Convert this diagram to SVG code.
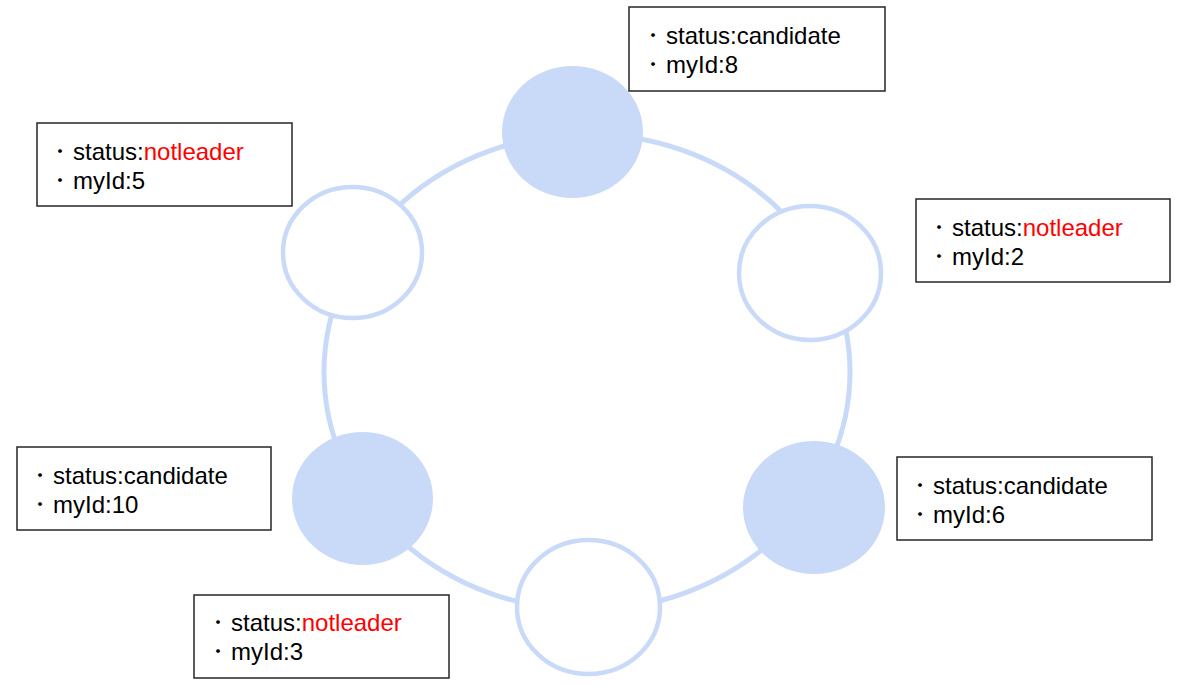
<svg xmlns="http://www.w3.org/2000/svg" width="1200" height="684" viewBox="0 0 1200 684">
  <style>
    .ring { fill: none; stroke: #C9DAF8; stroke-width: 5; }
    .cand { fill: #C9DAF8; stroke: none; }
    .nl { fill: #FFFFFF; stroke: #C9DAF8; stroke-width: 4.5; }
    .box { fill: #FFFFFF; stroke: #262626; stroke-width: 1.5; }
    .t { font-family: "Liberation Sans", Arial, "Noto Sans CJK JP", sans-serif; font-size: 24px; fill: #000000; }
    .b { font-family: "Noto Sans CJK JP", "Liberation Sans", sans-serif; font-size: 18px; fill: #000000; }
    .red { fill: #FF0000; }
  </style>
  <rect x="0" y="0" width="1200" height="684" fill="#FFFFFF"/>
  <g id="connectors">
    <ellipse class="ring" cx="587" cy="372" rx="263" ry="238"/>
  </g>
  <g id="node-8">
    <ellipse class="cand" cx="572.5" cy="132" rx="70.5" ry="66"/>
    <rect class="box" x="629" y="7" width="256" height="84"/>
    <text class="b" x="644" y="42">・</text>
    <text class="t" x="666" y="44">status:candidate</text>
    <text class="b" x="644" y="71">・</text>
    <text class="t" x="666" y="73">myId:8</text>
  </g>
  <g id="node-5">
    <ellipse class="nl" cx="352.5" cy="252.5" rx="69.5" ry="65.5"/>
    <rect class="box" x="37" y="123" width="255" height="83"/>
    <text class="b" x="51" y="158">・</text>
    <text class="t" x="73" y="160">status:<tspan class="red">notleader</tspan></text>
    <text class="b" x="51" y="187">・</text>
    <text class="t" x="73" y="189">myId:5</text>
  </g>
  <g id="node-2">
    <ellipse class="nl" cx="810" cy="273" rx="71" ry="67"/>
    <rect class="box" x="916" y="199" width="254" height="83"/>
    <text class="b" x="930" y="234">・</text>
    <text class="t" x="952" y="236">status:<tspan class="red">notleader</tspan></text>
    <text class="b" x="930" y="263">・</text>
    <text class="t" x="952" y="265">myId:2</text>
  </g>
  <g id="node-10">
    <ellipse class="cand" cx="362.5" cy="498.5" rx="70.5" ry="66.5"/>
    <rect class="box" x="17" y="447" width="254" height="83"/>
    <text class="b" x="31" y="482">・</text>
    <text class="t" x="53" y="484">status:candidate</text>
    <text class="b" x="31" y="511">・</text>
    <text class="t" x="53" y="513">myId:10</text>
  </g>
  <g id="node-6">
    <ellipse class="cand" cx="814" cy="507.5" rx="71" ry="66.5"/>
    <rect class="box" x="897" y="457" width="255" height="83"/>
    <text class="b" x="911" y="492">・</text>
    <text class="t" x="933" y="494">status:candidate</text>
    <text class="b" x="911" y="521">・</text>
    <text class="t" x="933" y="523">myId:6</text>
  </g>
  <g id="node-3">
    <ellipse class="nl" cx="588.5" cy="607" rx="71.5" ry="67"/>
    <rect class="box" x="194" y="595" width="255" height="83"/>
    <text class="b" x="209" y="629">・</text>
    <text class="t" x="231" y="631">status:<tspan class="red">notleader</tspan></text>
    <text class="b" x="209" y="658">・</text>
    <text class="t" x="231" y="660">myId:3</text>
  </g>
</svg>
